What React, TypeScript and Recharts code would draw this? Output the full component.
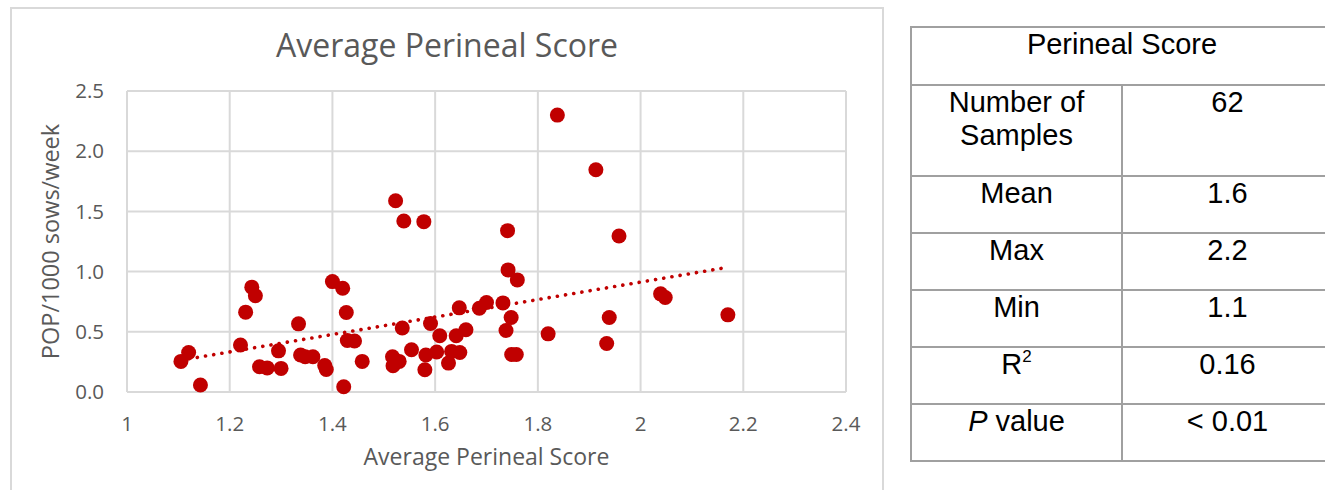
import React from 'react';
import {
  ScatterChart, Scatter, XAxis, YAxis, CartesianGrid, ReferenceLine,
} from 'recharts';

// average perineal score per farm vs. POP per 1000 sows per week
const perinealScore = [
  1.105, 1.12, 1.143, 1.221, 1.243, 1.25, 1.231, 1.258, 1.273, 1.295, 1.3, 1.334,
  1.338, 1.347, 1.362, 1.385, 1.388, 1.4, 1.42, 1.427, 1.429, 1.443, 1.422, 1.458,
  1.523, 1.539, 1.578, 1.536, 1.517, 1.53, 1.518, 1.554, 1.582, 1.603, 1.58, 1.591,
  1.609, 1.626, 1.632, 1.648, 1.641, 1.66, 1.647, 1.686, 1.7, 1.732, 1.741, 1.742,
  1.76, 1.748, 1.738, 1.749, 1.758, 1.82, 1.838,
  1.913, 1.958, 1.939, 1.934, 2.039, 2.048, 2.17,
];
const popRate = [
  0.254, 0.328, 0.058, 0.39, 0.871, 0.8, 0.663, 0.21, 0.2, 0.342, 0.196, 0.566,
  0.307, 0.293, 0.293, 0.22, 0.187, 0.917, 0.862, 0.66, 0.428, 0.423, 0.044, 0.254,
  1.589, 1.42, 1.415, 0.531, 0.293, 0.254, 0.218, 0.351, 0.307, 0.332, 0.185, 0.569,
  0.467, 0.24, 0.337, 0.328, 0.467, 0.517, 0.699, 0.696, 0.743, 0.74, 1.34, 1.014,
  0.931, 0.619, 0.511, 0.312, 0.312, 0.483, 2.3,
  1.846, 1.296, 0.619, 0.403, 0.815, 0.785, 0.641,
];

// linear trend line end points
const trendX = [1.105, 2.17];
const trendY = [0.264, 1.036];

const xTicks = [1, 1.2, 1.4, 1.6, 1.8, 2, 2.2, 2.4];
const yTicks = [0, 0.5, 1, 1.5, 2, 2.5];

const statLabels = ['Number of Samples', 'Mean', 'Max', 'Min', 'R2', 'P value'];
const statValues = ['62', '1.6', '2.2', '1.1', '0.16', '< 0.01'];

const RED = '#c00000';
const GREY = '#595959';
const FONT = '"Open Sans", sans-serif';

const points = perinealScore.map((x, i) => ({ x, y: popRate[i] }));

const Dot = (props: any) => <circle cx={props.cx} cy={props.cy} r={7.5} fill={RED} />;

const statLabel = (label: string) => {
  if (label === 'Number of Samples') return <>Number of<br />Samples</>;
  if (label === 'R2') return <>R<sup style={{ fontSize: 17, verticalAlign: 'top', lineHeight: 1 }}>2</sup></>;
  if (label === 'P value') return <><i>P</i> value</>;
  return label;
};

const cell: React.CSSProperties = {
  border: '2px solid #a0a0a0',
  padding: 0,
  verticalAlign: 'top',
  textAlign: 'center',
};

const rowHeights = [91, 57, 57, 57, 57, 57];

export default function App() {
  return (
    <div style={{ position: 'absolute', left: 0, top: 0, width: 1325, height: 490, overflow: 'hidden', background: '#fff' }}>
      {/* chart frame */}
      <div style={{ position: 'absolute', left: 10, top: 7, width: 874, height: 520, border: '2px solid #d9d9d9', boxSizing: 'border-box' }} />
      <div style={{ position: 'absolute', left: 10, width: 874, top: 25, textAlign: 'center', fontFamily: FONT, fontSize: 32, color: GREY, lineHeight: '40px' }}>
        Average Perineal Score
      </div>
      <div style={{ position: 'absolute', left: 0, top: 0 }}>
        <ScatterChart width={890} height={490} margin={{ top: 91, right: 44, bottom: 18, left: 37 }}>
          <CartesianGrid stroke="#d9d9d9" strokeWidth={2} />
          <XAxis
            type="number"
            dataKey="x"
            domain={[1, 2.4]}
            ticks={xTicks}
            tickFormatter={(v: number) => String(v)}
            height={80}
            axisLine={{ stroke: '#d9d9d9', strokeWidth: 2 }}
            tickLine={false}
            tickSize={0}
            tickMargin={24}
            tick={{ fill: GREY, fontSize: 20.5, fontFamily: FONT }}
            label={{ value: 'Average Perineal Score', position: 'insideBottom', offset: 7, fill: GREY, fontSize: 23, fontFamily: FONT }}
          />
          <YAxis
            type="number"
            dataKey="y"
            domain={[0, 2.5]}
            ticks={yTicks}
            tickFormatter={(v: number) => v.toFixed(1)}
            width={90}
            axisLine={false}
            tickLine={false}
            tickSize={0}
            tickMargin={23}
            tick={{ fill: GREY, fontSize: 20.5, fontFamily: FONT }}
            label={{ value: 'POP/1000 sows/week', angle: -90, position: 'insideLeft', offset: 14, fill: GREY, fontSize: 23.5, fontFamily: FONT, style: { textAnchor: 'middle' } }}
          />
          <ReferenceLine
            segment={[{ x: trendX[0], y: trendY[0] }, { x: trendX[1], y: trendY[1] }]}
            stroke={RED}
            strokeWidth={3.6}
            strokeDasharray="0.1 8.2"
            strokeLinecap="round"
          />
          <Scatter data={points} fill={RED} shape={Dot} isAnimationActive={false} />
        </ScatterChart>
      </div>
      {/* summary table */}
      <table style={{ position: 'absolute', left: 910, top: 26, width: 422, tableLayout: 'fixed', borderCollapse: 'collapse', fontFamily: '"Liberation Sans", Arial, sans-serif', fontSize: 29, color: '#000', lineHeight: '33px' }}>
        <colgroup>
          <col style={{ width: 211 }} />
          <col style={{ width: 211 }} />
        </colgroup>
        <tbody>
          <tr style={{ height: 58 }}>
            <td colSpan={2} style={cell}>Perineal Score</td>
          </tr>
          {statLabels.map((label, i) => (
            <tr key={label} style={{ height: rowHeights[i] }}>
              <td style={cell}>{statLabel(label)}</td>
              <td style={cell}>{statValues[i]}</td>
            </tr>
          ))}
        </tbody>
      </table>
    </div>
  );
}
